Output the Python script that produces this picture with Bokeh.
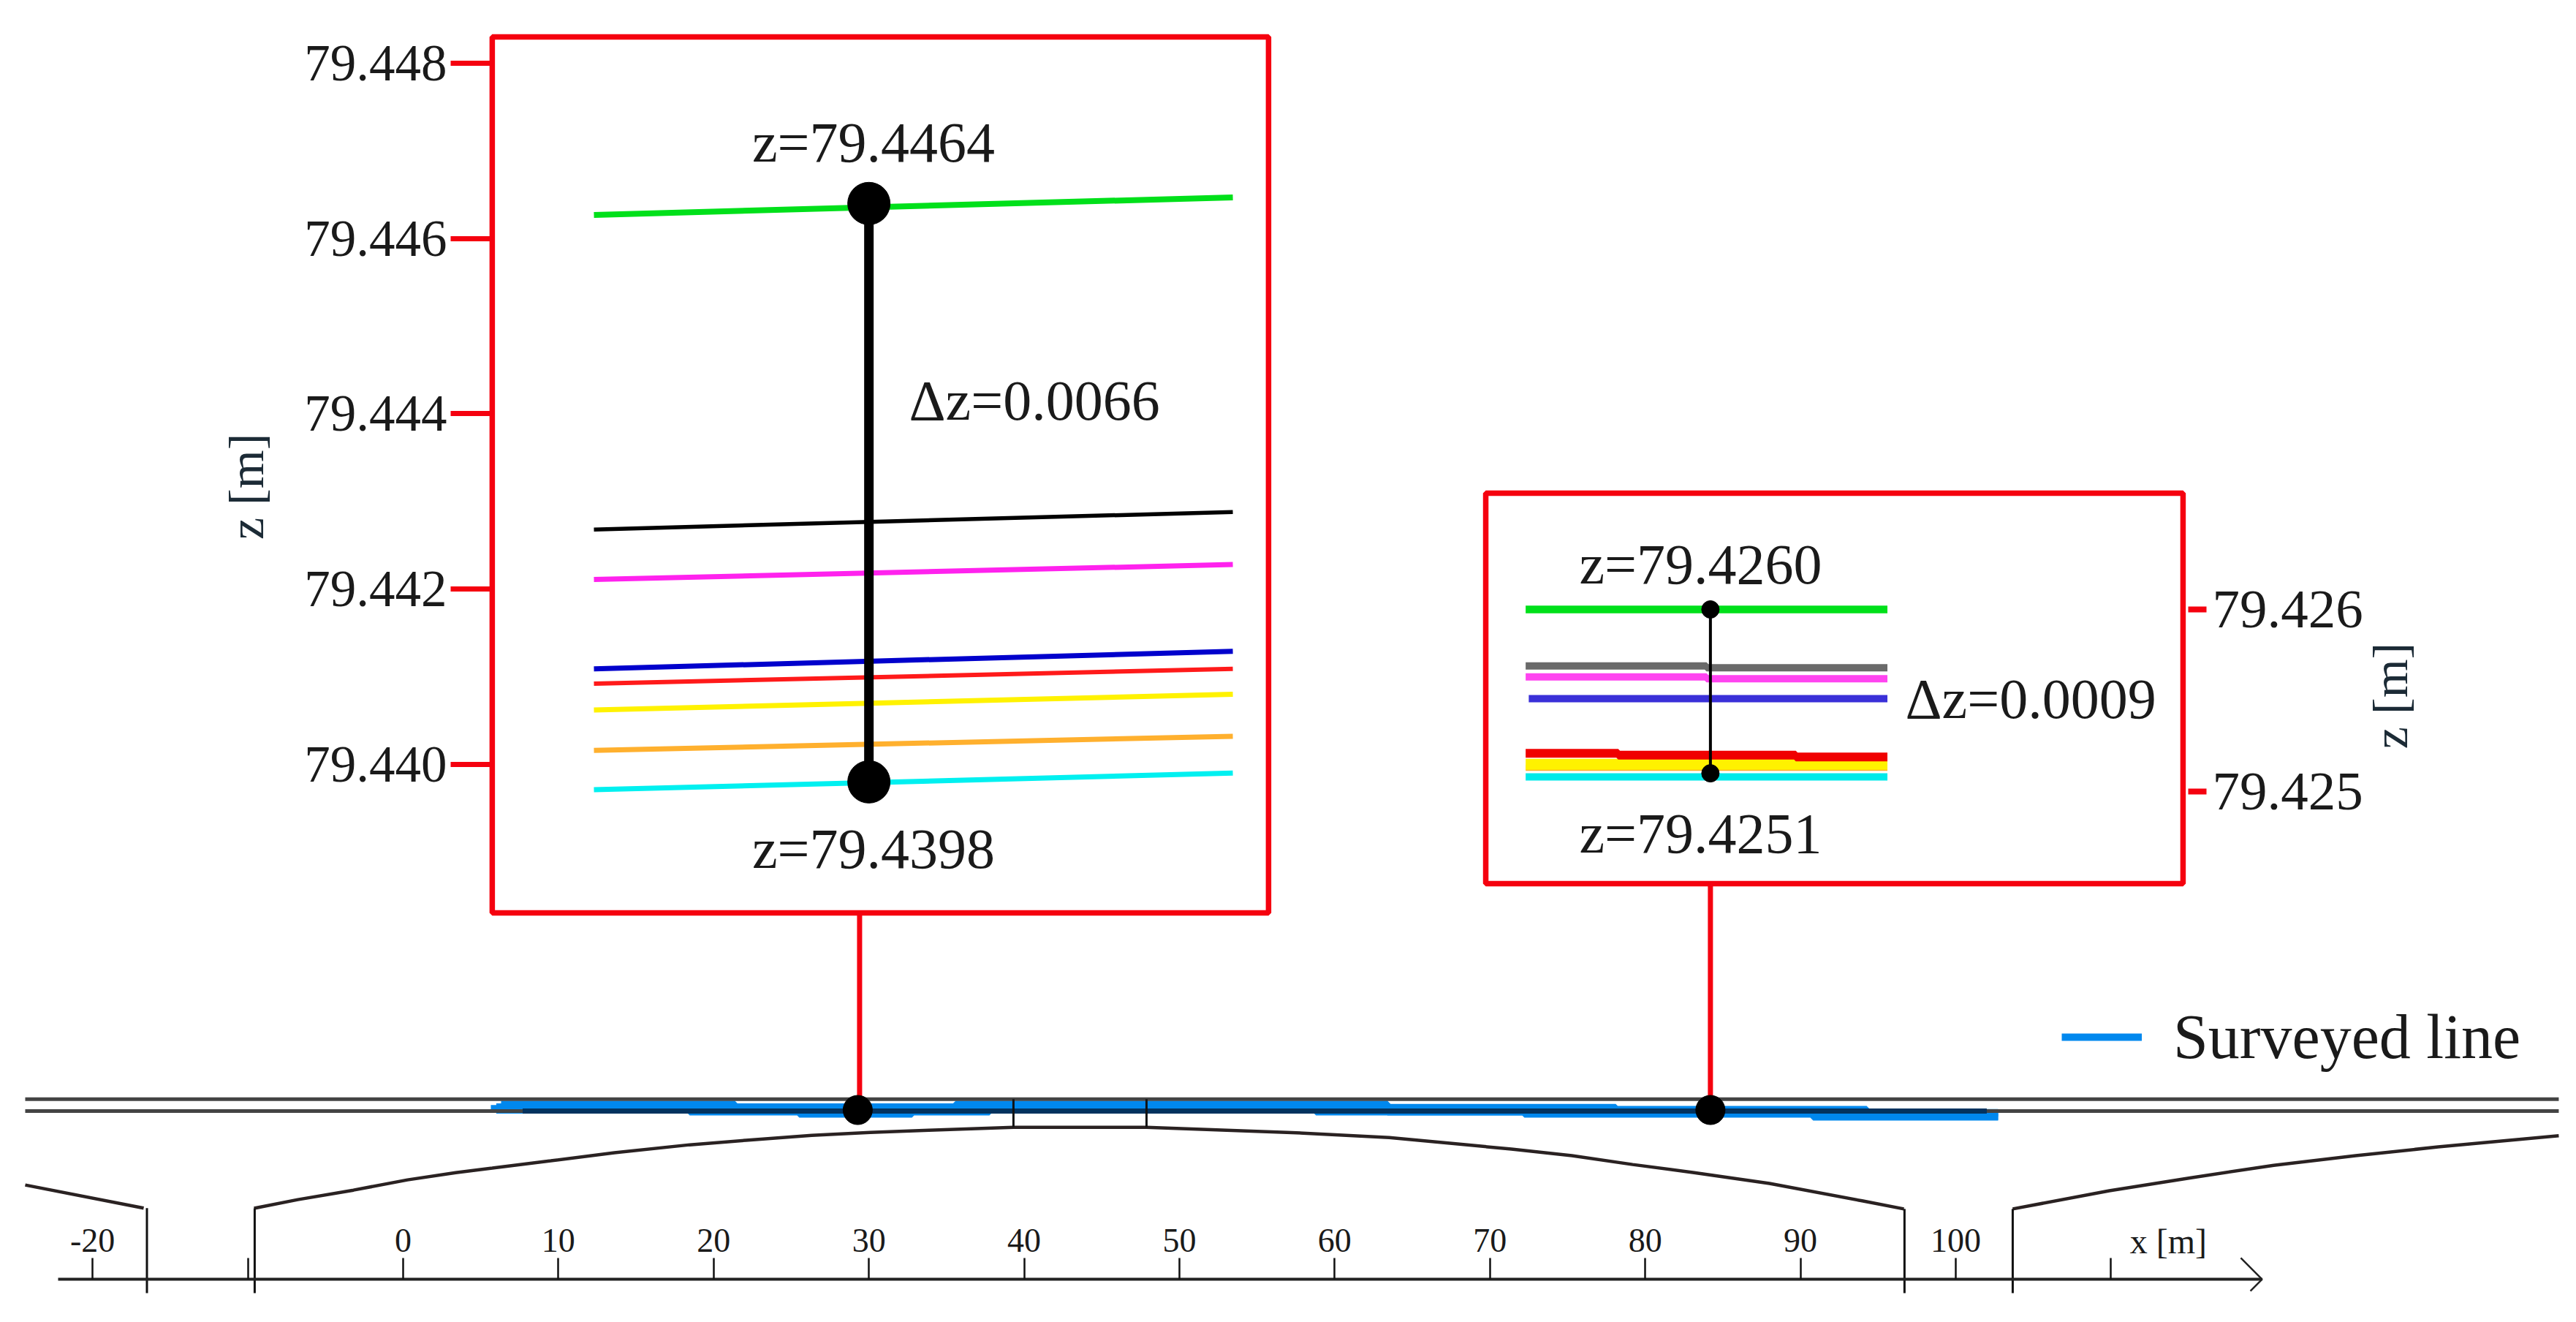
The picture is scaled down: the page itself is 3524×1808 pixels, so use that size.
from math import pi
from bokeh.plotting import figure
from bokeh.embed import file_html
from bokeh.resources import INLINE
from bokeh.models import (FixedTicker, Legend, LegendItem, LinearAxis, PrintfTickFormatter,
                          Range1d)

# x axis along the bridge [m], h = height above the x axis line [m]
x_ticks = [-20, -10, 0, 10, 20, 30, 40, 50, 60, 70, 80, 90, 100, 110]
x_hidden = {-20: "-20", -10: "", 110: ""}

deck_x = [-24.34, 138.84]
deck_top_h = [11.6, 11.6]
deck_low_h = [10.83, 10.83]

arch_left_x = [-24.34, -16.71]
arch_left_h = [6.07, 4.58]
arch_main_x = [-9.60, -6.78, -3.20, 0.28, 3.39, 5.74, 9.51, 13.61, 18.46, 22.08, 26.32, 30.08,
               33.85, 39.31, 47.88, 56.92, 63.51, 67.42, 71.38, 75.28, 79.19, 83.15, 88.0,
               93.97, 96.66]
arch_main_h = [4.57, 5.13, 5.74, 6.40, 6.87, 7.16, 7.63, 8.15, 8.66, 8.95, 9.27, 9.46,
               9.60, 9.79, 9.79, 9.46, 9.13, 8.76, 8.38, 7.96, 7.39, 6.87, 6.17,
               5.05, 4.53]
arch_right_x = [103.67, 109.89, 115.16, 120.48, 125.76, 131.07, 138.84]
arch_right_h = [4.53, 5.70, 6.54, 7.34, 7.96, 8.52, 9.24]

piers_x = [-16.5, -9.56, 96.7, 103.67]
piers_top_h = [4.58, 4.57, 4.53, 4.53]
pier_foot_h = -0.89
posts_x = [39.31, 47.88]
posts_low_h = [9.79, 9.79]

surveyed_up_x = [6.31, 21.37, 35.59, 63.4, 78.1, 94.26, 102.73]
surveyed_up_h = [11.25, 11.02, 11.25, 11.06, 10.92, 10.73, 10.73]
surveyed_mid_x = [6.0, 63.4, 78.1, 94.26, 102.73]
surveyed_mid_h = [11.0, 10.88, 10.78, 10.59, 10.59]
surveyed_lo_x = [5.65, 18.46, 25.52, 32.77, 37.76, 58.8, 72.22, 90.82, 102.73]
surveyed_lo_h = [10.98, 10.78, 10.64, 10.78, 10.98, 10.78, 10.64, 10.45, 10.45]
surveyed_core_x = [7.7, 102.0]
surveyed_core_h = [10.83, 10.83]

sections_x = [29.4, 84.2]
section_top_h = [23.59, 25.47]
section_dot_x = [29.28, 84.2]
section_dot_h = [10.9, 10.9]

box_left = [5.74, 69.73]
box_right = [55.74, 114.64]
box_top = [79.99, 50.61]
box_bottom = [23.59, 25.47]

# left inset, z [m]
zl_ticks = [79.440, 79.442, 79.444, 79.446, 79.448]
zl_x = [12.29, 53.44]
zl_green = [79.44627, 79.44647]
zl_black = [79.44268, 79.44288]
zl_magenta = [79.44211, 79.44228]
zl_blue = [79.44109, 79.44129]
zl_red = [79.44092, 79.44109]
zl_yellow = [79.44062, 79.44080]
zl_orange = [79.44016, 79.44032]
zl_cyan = [79.43971, 79.43990]
zl_span_x = [30.0, 30.0]
zl_span_z = [79.4464, 79.4398]

# right inset, z [m]
zr_ticks = [79.425, 79.426]
zr_x = [72.3, 95.6]
zr_green = [79.42600, 79.42600]
zr_gray_x = [72.3, 83.95, 83.95, 95.6]
zr_gray = [79.42569, 79.42569, 79.42568, 79.42568]
zr_magenta_x = [72.3, 83.95, 83.95, 95.6]
zr_magenta = [79.42563, 79.42563, 79.42562, 79.42562]
zr_blue_x = [72.5, 95.6]
zr_blue = [79.42551, 79.42551]
zr_red_x = [72.3, 78.26, 78.26, 89.7, 89.7, 95.6]
zr_red = [79.42521, 79.42521, 79.42520, 79.42520, 79.42519, 79.42519]
zr_yellow = [79.42515, 79.42515]
zr_orange = [79.42513, 79.42513]
zr_cyan = [79.42508, 79.42508]
zr_span_x = [84.2, 84.2]
zr_span_z = [79.4260, 79.4251]

FONT = "Liberation Serif"
RED = "#f5010f"
INK = "#1a1a1a"
SKY = "#0088ee"

p = figure(width=3508, height=1792, output_backend="svg", toolbar_location=None,
           x_axis_location=None, y_axis_location=None,
           x_range=Range1d(-25.94, 139.22), y_range=Range1d(-2.02, 82.34),
           min_border=0, outline_line_color=None)
p.grid.visible = False
p.extra_y_ranges = {"zl": Range1d(79.433766, 79.448718), "zr": Range1d(79.422149, 79.429345)}

# surveyed line under the deck lines
r_up = p.step(surveyed_up_x, surveyed_up_h, mode="after", line_color=SKY, line_width=10)
p.step(surveyed_lo_x, surveyed_lo_h, mode="after", line_color=SKY, line_width=10)
p.step(surveyed_mid_x, surveyed_mid_h, mode="after", line_color=SKY, line_width=14)

# bridge
p.line(deck_x, deck_top_h, line_color="#444444", line_width=5)
p.line(deck_x, deck_low_h, line_color="#444444", line_width=5)
p.line(surveyed_core_x, surveyed_core_h, line_color="#03335f", line_width=7)
p.line(arch_left_x, arch_left_h, line_color="#2a2222", line_width=4.5)
p.line(arch_main_x, arch_main_h, line_color="#2a2222", line_width=4.5)
p.line(arch_right_x, arch_right_h, line_color="#2a2222", line_width=4.5)
p.segment(piers_x, piers_top_h, piers_x, [pier_foot_h] * 4, line_color="#111111", line_width=3)
p.segment(posts_x, posts_low_h, posts_x, [11.6, 11.6], line_color="#111111", line_width=3)

# arrow head of the x axis
p.line([118.36, 119.73, 118.98], [1.37, 0.0, -0.75], line_color="#222222", line_width=2.5)

# red leaders and boxes
p.segment(sections_x, section_top_h, sections_x, [11.6, 11.6], line_color=RED, line_width=7)
p.quad(left=box_left, right=box_right, top=box_top, bottom=box_bottom,
       fill_color=None, line_color=RED, line_width=7.5)
p.scatter(section_dot_x, section_dot_h, size=40, color="black")

# left inset lines
for ys, col, lw in [(zl_green, "#00e01a", 8), (zl_black, "#000000", 5.5), (zl_magenta, "#ff22ee", 7),
                    (zl_blue, "#0000cc", 7), (zl_red, "#ff1a1a", 6), (zl_yellow, "#fff200", 7),
                    (zl_orange, "#ffb02e", 7), (zl_cyan, "#00f0f0", 7)]:
    p.line(zl_x, ys, y_range_name="zl", line_color=col, line_width=lw)
p.line(zl_span_x, zl_span_z, y_range_name="zl", line_color="black", line_width=13)
p.scatter(zl_span_x, zl_span_z, y_range_name="zl", size=58, color="black")

# right inset lines
p.line(zr_x, zr_green, y_range_name="zr", line_color="#00e01a", line_width=10.5)
p.line(zr_gray_x, zr_gray, y_range_name="zr", line_color="#6a6a6a", line_width=10)
p.line(zr_magenta_x, zr_magenta, y_range_name="zr", line_color="#ff44f0", line_width=10)
p.line(zr_blue_x, zr_blue, y_range_name="zr", line_color="#3a30d8", line_width=10)
p.line(zr_x, zr_orange, y_range_name="zr", line_color="#ffb02e", line_width=8)
p.line(zr_x, zr_yellow, y_range_name="zr", line_color="#fff200", line_width=15)
p.line(zr_red_x, zr_red, y_range_name="zr", line_color="#f00000", line_width=12)
p.line(zr_x, zr_cyan, y_range_name="zr", line_color="#00eaea", line_width=10)
p.line(zr_span_x, zr_span_z, y_range_name="zr", line_color="black", line_width=4)
p.scatter(zr_span_x, zr_span_z, y_range_name="zr", size=24, color="black")

# annotations
for x, z, s, al in [(30.3, 79.44710, "z=79.4464", "center"), (30.3, 79.43904, "z=79.4398", "center"),
                    (32.58, 79.44415, "Δz=0.0066", "left")]:
    p.text([x], [z], text=[s], y_range_name="zl", text_font=FONT, text_font_size="78px",
           text_color=INK, text_align=al, text_baseline="alphabetic")
for x, z, s, al in [(83.57, 79.42625, "z=79.4260", "center"), (83.57, 79.42477, "z=79.4251", "center"),
                    (96.75, 79.42551, "Δz=0.0009", "left")]:
    p.text([x], [z], text=[s], y_range_name="zr", text_font=FONT, text_font_size="78px",
           text_color=INK, text_align=al, text_baseline="alphabetic")
p.text([-10.08, 128.0], [51.04, 37.57], text=["z [m]", "z [m]"], angle=pi / 2, text_font=FONT,
       text_font_size="68px", text_color="#1c2b36", text_align="center", text_baseline="middle")
p.text([113.7], [2.47], text=["x [m]"], text_font=FONT, text_font_size="48px", text_color=INK,
       text_align="center", text_baseline="alphabetic")

# axes
ax = LinearAxis(ticker=FixedTicker(ticks=x_ticks), fixed_location=0, bounds=(-22.22, 119.73),
                major_label_overrides=x_hidden)
ax.major_tick_in = 0
ax.major_tick_out = 29
ax.minor_tick_line_color = None
ax.major_tick_line_color = "#111111"
ax.major_tick_line_width = 2.5
ax.axis_line_color = "#222222"
ax.axis_line_width = 4
ax.major_label_standoff = 9
ax.major_label_text_font = FONT
ax.major_label_text_font_size = "46px"
ax.major_label_text_color = INK
p.add_layout(ax, "above")

azl = LinearAxis(y_range_name="zl", ticker=FixedTicker(ticks=zl_ticks), fixed_location=5.74,
                 formatter=PrintfTickFormatter(format="%.3f"))
azr = LinearAxis(y_range_name="zr", ticker=FixedTicker(ticks=zr_ticks), fixed_location=114.97,
                 formatter=PrintfTickFormatter(format="%.3f"))
for a, out, lw, st, size in [(azl, 57, 7, 5, "71px"), (azr, 25, 8, 8, "75px")]:
    a.axis_line_color = None
    a.minor_tick_line_color = None
    a.major_tick_in = 0
    a.major_tick_out = out
    a.major_tick_line_color = RED
    a.major_tick_line_width = lw
    a.major_label_standoff = st
    a.major_label_text_font = FONT
    a.major_label_text_font_size = size
    a.major_label_text_color = INK
p.add_layout(azl, "left")
p.add_layout(azr, "right")

legend = Legend(items=[LegendItem(label="Surveyed line", renderers=[r_up])], location=(2820, 324),
                border_line_color=None, background_fill_color=None, glyph_width=110, glyph_height=20,
                label_text_font=FONT, label_text_font_size="86px", label_text_color=INK,
                label_standoff=43, padding=0, margin=0)
p.add_layout(legend, "center")

open("out.html", "w").write(file_html(p, INLINE))
